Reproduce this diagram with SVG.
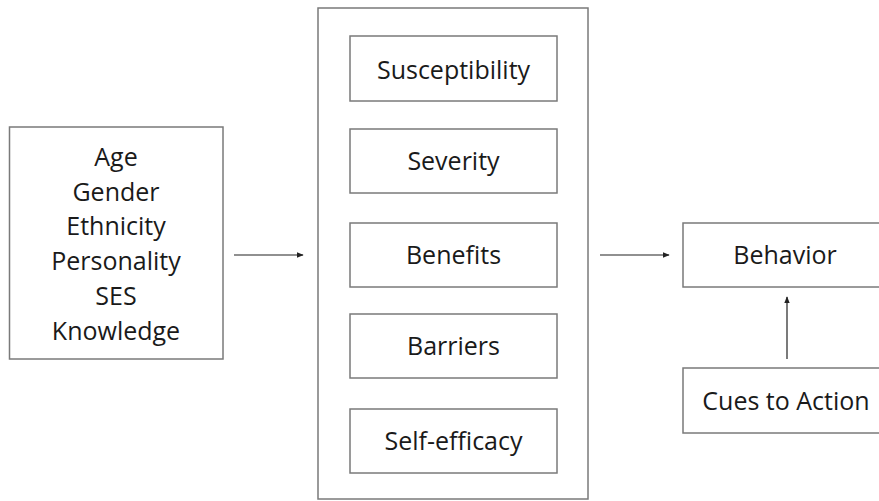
<svg xmlns="http://www.w3.org/2000/svg" width="879" height="501" viewBox="0 0 879 501">
<style>
.box{fill:#fff;stroke:#7a7a7a;stroke-width:1.5}
.t{font-family:"Open Sans","Liberation Sans",sans-serif;font-size:25px;fill:#1a1a1a;text-anchor:middle}
.c{stroke:#222;stroke-width:1.2;fill:none}
</style>
<defs>
<marker id="ah" viewBox="0 0 10 10" refX="9" refY="5" markerWidth="7" markerHeight="7" markerUnits="userSpaceOnUse" orient="auto">
<path d="M0,1 L10,5 L0,9 z" fill="#222"/>
</marker>
</defs>
<rect width="879" height="501" fill="#fff"/>
<g id="factors">
<rect class="box" x="9.5" y="127" width="213.5" height="232"/>
<text class="t" x="116" y="166">Age</text>
<text class="t" x="116" y="201">Gender</text>
<text class="t" x="116" y="235">Ethnicity</text>
<text class="t" x="116" y="270">Personality</text>
<text class="t" x="116" y="305">SES</text>
<text class="t" x="116" y="340">Knowledge</text>
</g>
<g id="beliefs">
<rect class="box" x="318" y="8" width="270" height="491"/>
</g>
<g id="susceptibility">
<rect class="box" x="350" y="36" width="207" height="65"/>
<text class="t" x="453.5" y="79">Susceptibility</text>
</g>
<g id="severity">
<rect class="box" x="350" y="129" width="207" height="64"/>
<text class="t" x="453.5" y="170">Severity</text>
</g>
<g id="benefits">
<rect class="box" x="350" y="223" width="207" height="64"/>
<text class="t" x="453.5" y="264">Benefits</text>
</g>
<g id="barriers">
<rect class="box" x="350" y="314" width="207" height="64"/>
<text class="t" x="453.5" y="355">Barriers</text>
</g>
<g id="self-efficacy">
<rect class="box" x="350" y="409" width="207" height="64"/>
<text class="t" x="453.5" y="450">Self-efficacy</text>
</g>
<g id="behavior">
<rect class="box" x="683" y="223" width="210" height="64"/>
<text class="t" x="785" y="264">Behavior</text>
</g>
<g id="cues">
<rect class="box" x="683" y="368" width="210" height="65"/>
<text class="t" x="786" y="410">Cues to Action</text>
</g>
<g id="connectors">
<line class="c" x1="234" y1="255" x2="303" y2="255" marker-end="url(#ah)"/>
<line class="c" x1="600" y1="255" x2="669" y2="255" marker-end="url(#ah)"/>
<line class="c" x1="787" y1="359" x2="787" y2="297" marker-end="url(#ah)"/>
</g>
</svg>
